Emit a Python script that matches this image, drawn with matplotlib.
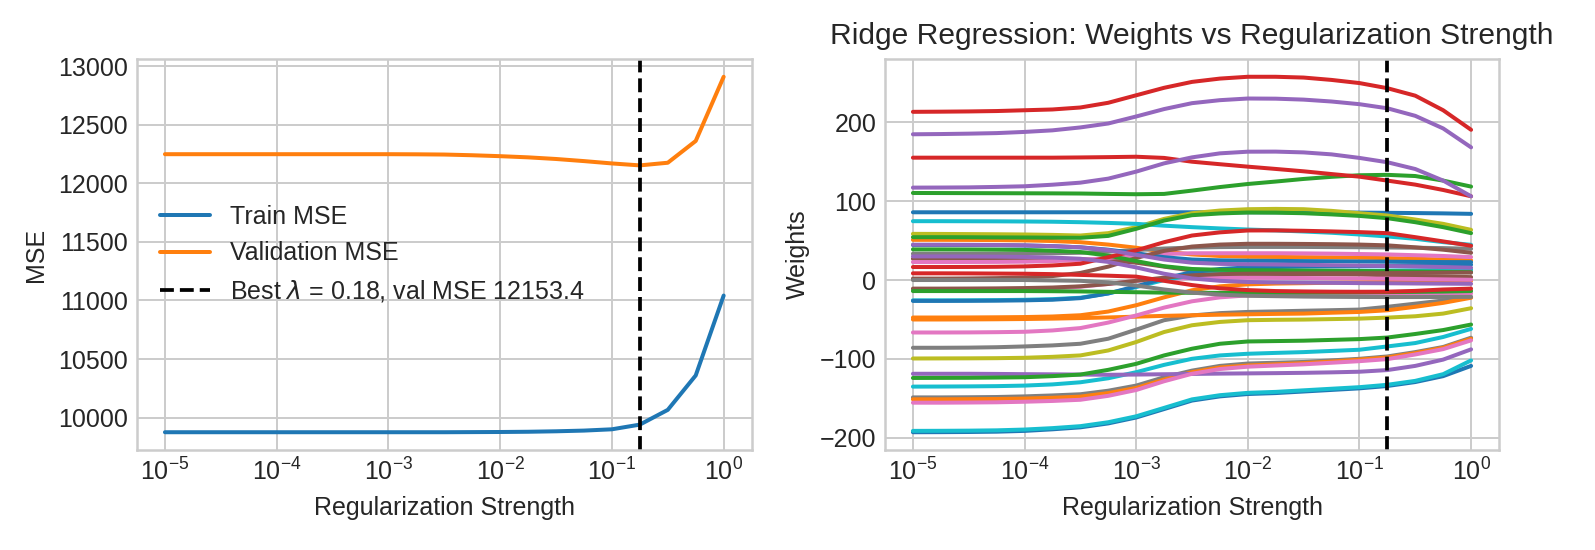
import matplotlib
matplotlib.use("Agg")
import matplotlib.pyplot as plt

# ---------------- data ----------------
lambdas = [1.0e-05, 1.778e-05, 3.162e-05, 5.623e-05, 1.0e-04, 1.778e-04, 3.162e-04,
           5.623e-04, 1.0e-03, 1.778e-03, 3.162e-03, 5.623e-03, 1.0e-02, 1.778e-02,
           3.162e-02, 5.623e-02, 1.0e-01, 1.778e-01, 3.162e-01, 5.623e-01, 1.0]

train_mse = [9875, 9875, 9875, 9875, 9875, 9875, 9875, 9875, 9875, 9875, 9875,
             9876, 9877, 9879, 9883, 9889, 9900, 9940, 10066, 10360, 11042]
val_mse = [12249, 12249, 12249, 12249, 12249, 12249, 12249, 12249, 12249, 12248, 12246,
           12240, 12232, 12222, 12208, 12190, 12170, 12153.4, 12176, 12362, 12910]

best_lambda = 0.178
best_val = 12153.4

# ridge weight paths (one list per feature)
b1 = [86, 86, 86, 86, 86, 86, 86, 86, 86, 86, 86, 86, 86, 86, 86, 85.8, 85.6, 85.3, 85, 84.6, 84]
b2 = [44.5, 44.5, 44.4, 44.2, 43.8, 43, 41.5, 38.5, 34, 29, 26, 25, 24.5, 24.3, 24, 23.8, 23.5, 23.3, 23, 22.8, 22.7]
b3 = [-26.5, -26.5, -26.4, -26.2, -25.8, -25, -23, -17, -8, 2, 10, 14, 16, 16.5, 17, 17.3, 17.5, 18, 18.5, 19, 19.5]
b4 = [-193.2, -193.1, -192.9, -192.5, -191.5, -189.5, -187, -182, -174.5, -163.8, -153, -147.7, -144.7, -143.5, -141.5, -139.5, -137.5, -134.5, -129.5, -122, -109]
o1 = [51, 51, 50.9, 50.7, 50.3, 49.5, 48, 45, 41, 36, 32.5, 30.5, 29.5, 29.3, 29, 28.7, 28.3, 27.8, 27, 26, 25]
o2 = [-47.6, -47.6, -47.5, -47.3, -47, -46.3, -44.7, -40, -32, -22, -13, -8, -5.5, -4.5, -4, -3.5, -3, -2.5, -2, -1.5, -1]
o3 = [-50.1, -50.1, -50, -49.8, -49.5, -49, -48.3, -47.5, -46.5, -45.5, -44.7, -44, -43.5, -43, -42.6, -41.5, -40.5, -38.4, -34, -29, -22.5]
o4 = [-151.4, -151.4, -151.2, -151, -150.5, -149.5, -148, -143.5, -137, -126.4, -117, -111, -108.5, -107, -105.5, -103.5, -101, -98.3, -92.8, -86, -74.5]
g1 = [110.5, 110.4, 110.3, 110.2, 110.1, 110, 109.8, 109.3, 108.9, 109.3, 113.5, 118, 121.9, 125, 128.3, 131, 133, 133.5, 132, 126.2, 118.6]
g2 = [54.4, 54.4, 54.3, 54.1, 54, 53.8, 53.6, 56, 65, 75.5, 82.3, 84.5, 85.7, 85.5, 84.8, 83.3, 81.4, 78.5, 73.4, 67.1, 59.5]
g3 = [38.9, 38.9, 38.8, 38.6, 38.2, 37.2, 35.5, 31, 24, 17.5, 14, 13, 12.5, 12.3, 12, 11.8, 11.5, 11.2, 10.8, 10.4, 10]
g4 = [-14, -14, -14, -14, -14, -14.2, -14.5, -15, -15.5, -16, -16.2, -16.3, -16.3, -16.2, -16, -15.8, -15.6, -15.3, -15, -14.6, -14]
g5 = [-124.3, -124.2, -124.1, -123.8, -123.4, -122, -120, -114, -106.4, -95.7, -87.2, -80.9, -78, -77.5, -77, -76, -75, -73, -68.5, -63.5, -56.5]
r1 = [213.5, 213.7, 214, 214.5, 215.5, 216.5, 219, 225, 234.5, 244, 251.5, 255.7, 258, 258, 257, 254, 250, 243.5, 234, 215.5, 190.7]
r2 = [155.3, 155.3, 155.3, 155.3, 155.3, 155.3, 155.6, 156, 156.5, 155, 150.2, 147, 143.9, 141, 138, 134.5, 131.2, 126.2, 121.1, 114.3, 106.3]
r3 = [16.5, 16.5, 16.6, 16.8, 17.3, 18.5, 20.7, 29, 37.6, 48, 56.5, 60.5, 62.9, 63, 62.5, 61.7, 60.8, 59.5, 54.4, 49, 43.5]
r4 = [8.5, 8.5, 8.4, 8.2, 8, 7.5, 6.5, 5.5, 4.3, -1, -6.4, -10.5, -12.8, -14, -14.5, -14.8, -14.9, -14.8, -13.8, -12, -10.9]
p1 = [185, 185.3, 185.8, 186.5, 188, 190, 193.7, 198.7, 207.6, 217, 224.5, 228.3, 230.4, 230.2, 229, 226.6, 223.2, 218, 208.4, 192.4, 168.4]
p2 = [117.3, 117.4, 117.6, 118.2, 119, 121, 123.6, 128.7, 137.6, 148.1, 155.7, 160.8, 162.9, 163, 162, 159.5, 155, 149.5, 140.9, 126.2, 106.3]
p3 = [44.8, 44.8, 44.7, 44.5, 44, 43, 41.5, 38, 32, 26, 22, 20.5, 20, 19.7, 19.3, 18.8, 18.3, 17.8, 17.2, 16.5, 15.6]
p4 = [-119, -119, -119, -119.2, -119.5, -119.7, -120, -120.3, -120, -119.6, -119.2, -118.8, -118.5, -118.2, -117.8, -117.2, -116.4, -114.3, -109, -101, -88]
p5 = [30, 30, 29.9, 29.7, 29.3, 28.5, 27, 23, 16, 8, 2, -1, -2.5, -3, -3.3, -3.6, -3.9, -4.1, -4.4, -4.6, -4.8]
br1 = [27, 27, 27, 27, 27, 27, 26.5, 25, 22, 17, 12, 9, 8, 7.7, 7.5, 7.3, 7, 6, 5, 4.5, 3.7]
br2 = [1.8, 1.8, 2, 2.4, 3.2, 5, 9, 17, 28, 37, 42.5, 45, 46, 46, 45.8, 45.5, 45, 44, 41.5, 38.5, 34.6]
br3 = [-10.9, -10.9, -10.8, -10.6, -10.2, -9.5, -8, -5, -1, 3, 6, 7.5, 8, 8.2, 8.4, 8.5, 8.6, 8.8, 9, 9.3, 9.5]
pk1 = [22.8, 22.8, 22.9, 23, 23.3, 24, 25.5, 28, 31, 33, 34, 34, 34, 34, 33.8, 33.5, 33, 32.5, 31.5, 30.5, 29.1]
pk2 = [-12.2, -12.2, -12.1, -11.9, -11.5, -10.5, -8.5, -5, -1, 1.5, 2.5, 2.8, 2.8, 2.7, 2.5, 2.2, 2, 1.7, 1.3, 0.8, 0.3]
pk3 = [-66.6, -66.6, -66.5, -66.2, -65.7, -64, -61, -54, -45, -35, -27, -22, -19.5, -19, -18.7, -18.3, -18, -17.8, -17.5, -17.2, -17]
pk4 = [-155.7, -155.7, -155.5, -155.2, -154.5, -153.5, -152, -147, -139.6, -128.5, -119, -113, -110, -108.5, -107, -105, -103, -100.4, -94.5, -87.7, -76.6]
gr1 = [33.4, 33.4, 33.4, 33.5, 33.7, 34, 34.6, 36, 38, 40, 41.2, 41.8, 42, 42, 42, 41.8, 41.6, 41.3, 41, 40.5, 39.7]
gr2 = [-86, -86, -85.8, -85.3, -84.3, -83, -80.9, -74.5, -63, -51, -45, -42, -40.5, -39.8, -39, -38.3, -37.5, -34, -30, -26, -21.5]
gr3 = [-149, -149, -148.8, -148.5, -147.7, -146.5, -145, -140.5, -134, -123.4, -115, -109, -106, -105, -104, -102, -100, -97, -91.5, -85, -73.2]
gr4 = [0, 0, 0, 0, 0, -0.5, -1, -3, -7, -12, -16, -18.5, -20, -20.5, -21, -21.3, -21.5, -21.6, -21.6, -21.5, -21.4]
ol1 = [58.6, 58.5, 58.3, 58.1, 57.8, 57.3, 56.5, 59.5, 67.1, 77.6, 84.8, 88.2, 89.9, 90.3, 89.9, 87.8, 84.8, 81.9, 76.8, 71.3, 63.7]
ol2 = [-99.6, -99.5, -99.4, -99.2, -98.7, -97.5, -95.7, -89.4, -78.7, -66, -57.4, -53.2, -51, -50.5, -50.2, -49.6, -49, -47.7, -46, -42.6, -35.8]
c1 = [74.7, 74.7, 74.6, 74.5, 74.3, 74, 73.4, 72.5, 71.3, 69, 67.1, 65.5, 64.1, 63, 61.6, 60, 57.8, 55.3, 52.3, 48.1, 44.7]
c2 = [-25.8, -25.8, -25.7, -25.5, -25.1, -24.3, -22.5, -17, -9, 0, 6, 9, 10.5, 11, 11.3, 11.5, 11.7, 12, 12.3, 12.7, 13]
c3 = [-135.3, -135.2, -135, -134.7, -134, -132.5, -129.8, -124.7, -117, -107.7, -100, -95.7, -93.6, -92.5, -91.5, -90, -88.5, -84.3, -80, -72.3, -62]
c4 = [-191.5, -191.4, -191.2, -190.8, -189.8, -188, -185.5, -180.5, -173, -162.3, -151.5, -146.2, -143.2, -142, -140, -138, -136, -133, -128, -119.5, -102]

weight_paths = [b1, o1, g1, r1, p1, br1, pk1, gr1, ol1, c1,
                b2, o2, g2, r2, p2, br2, pk2, gr2, ol2, c2,
                b3, o3, g3, r3, p3, br3, pk3, gr3, c3,
                b4, o4, g4, r4, p4, pk4, gr4, c4,
                g5, p5]
weight_colors = ["C0", "C1", "C2", "C3", "C4", "C5", "C6", "C7", "C8", "C9",
                 "C0", "C1", "C2", "C3", "C4", "C5", "C6", "C7", "C8", "C9",
                 "C0", "C1", "C2", "C3", "C4", "C5", "C6", "C7", "C9",
                 "C0", "C1", "C2", "C3", "C4", "C6", "C7", "C9",
                 "C2", "C4"]

# ---------------- plot ----------------
plt.style.use("seaborn-v0_8-whitegrid")
plt.rcParams["font.family"] = ["Liberation Sans", "DejaVu Sans"]

W, H, DPI = 1595, 550, 180
fig = plt.figure(figsize=(W / DPI, H / DPI), dpi=DPI)
ax1 = fig.add_axes([137 / W, 1 - 450 / H, 614.6 / W, 391 / H])
ax2 = fig.add_axes([885 / W, 1 - 450 / H, 614 / W, 391 / H])

ax1.plot(lambdas, train_mse, label="Train MSE", lw=1.6)
ax1.plot(lambdas, val_mse, label="Validation MSE", lw=1.6)
ax1.axvline(best_lambda, color="k", linestyle="--",
            label=r"Best $\lambda$ = %.2f, val MSE %.1f" % (best_lambda, best_val))
ax1.set_xscale("log")
ax1.set_xlabel("Regularization Strength")
ax1.set_ylabel("MSE")
ax1.legend(loc="center left")

for w, c in zip(weight_paths, weight_colors):
    ax2.plot(lambdas, w, color=c, lw=1.6)
ax2.axvline(best_lambda, color="k", linestyle="--")
ax2.set_xscale("log")
ax2.set_xlabel("Regularization Strength")
ax2.set_ylabel("Weights")
ax2.set_title("Ridge Regression: Weights vs Regularization Strength")

fig.savefig("out.png", dpi=DPI)
